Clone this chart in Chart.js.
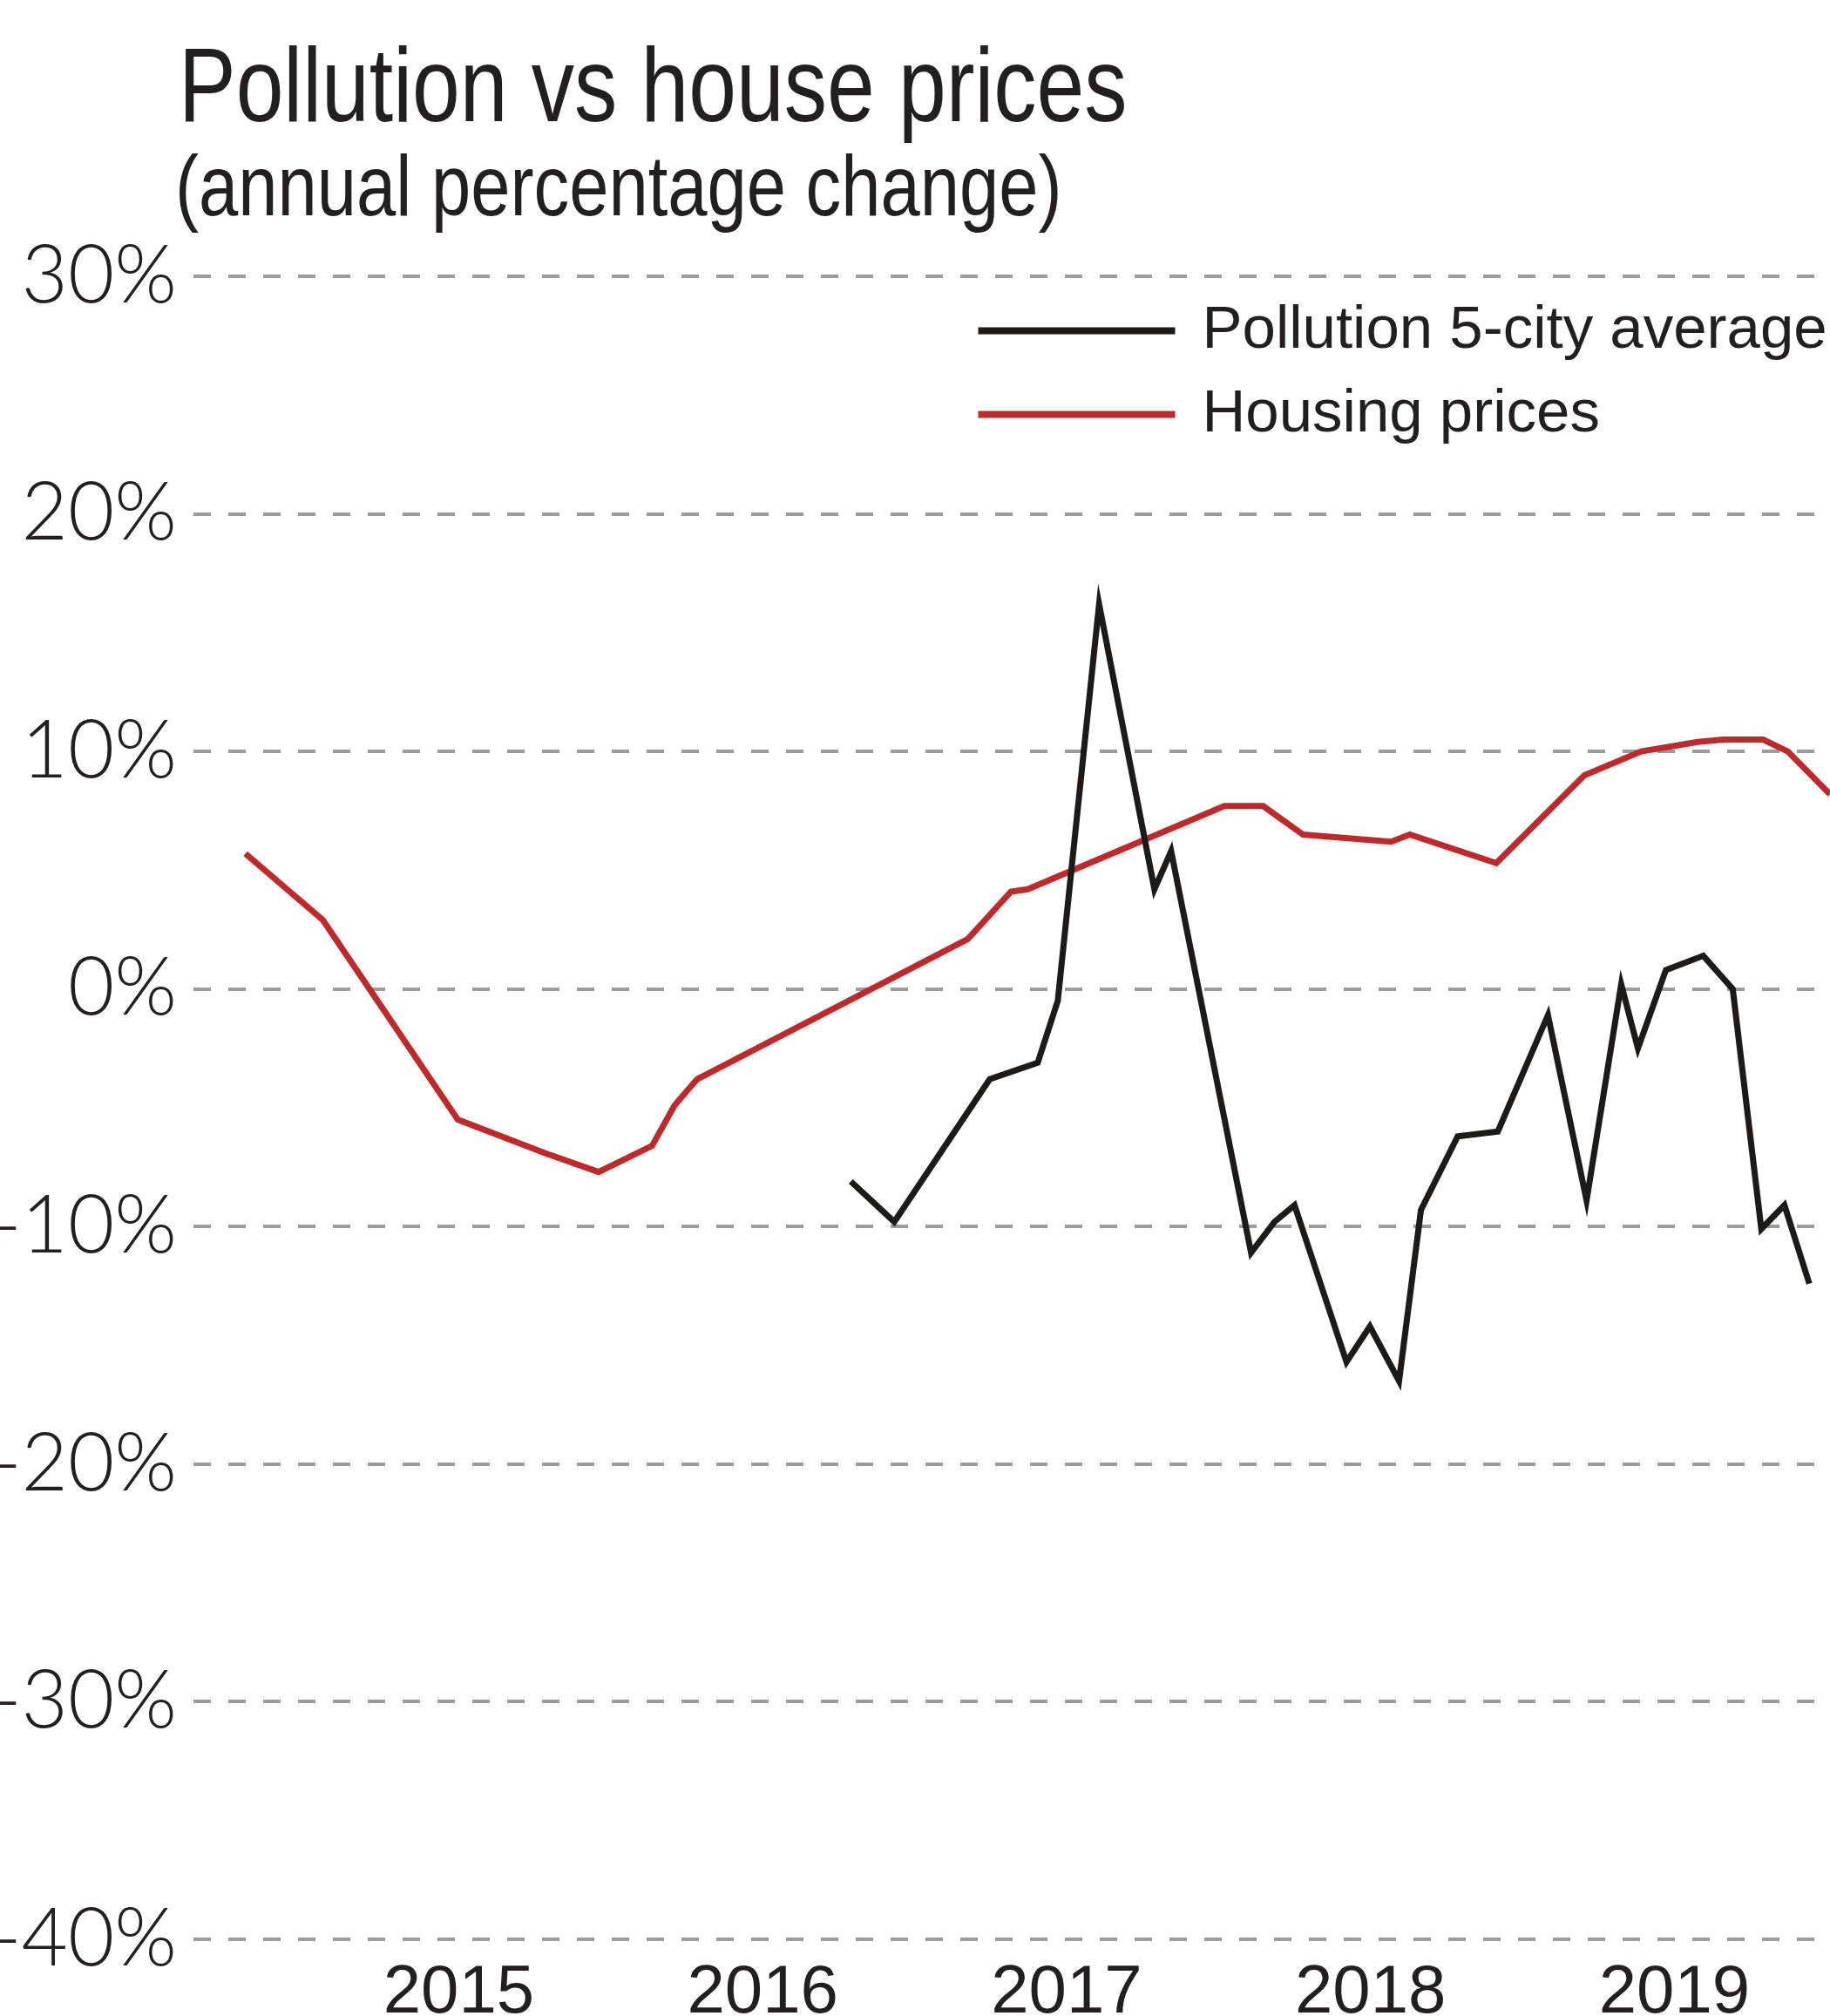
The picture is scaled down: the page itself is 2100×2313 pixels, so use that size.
<!DOCTYPE html>
<html>
<head>
<meta charset="utf-8">
<script src="https://cdn.jsdelivr.net/npm/chart.js@4.4.1/dist/chart.umd.min.js"></script>
<style>
  html, body { margin: 0; padding: 0; background: #ffffff; }
  #wrap { position: relative; width: 2100px; height: 2313px; overflow: hidden; }
  #chart { position: absolute; left: 0; top: 0; }
  .head {
    position: absolute;
    white-space: nowrap;
    color: #231f20;
    font-family: 'Liberation Sans', Arial, sans-serif;
    transform-origin: 0 0;
  }
  /* no narrow face installed, so squeeze the regular one */
  #title { left: 205px; top: 37px; font-size: 120px; line-height: 120px; transform: scaleX(0.82); }
  #subtitle { left: 201px; top: 164px; font-size: 98px; line-height: 98px; transform: scaleX(0.83); }
</style>
</head>
<body>
<div id="wrap">
  <canvas id="chart"></canvas>
  <div id="title" class="head">Pollution vs house prices</div>
  <div id="subtitle" class="head">(annual percentage change)</div>
</div>
<script>
// dates are decimal years
const pollutionDates = [2016.290, 2016.433, 2016.747, 2016.905, 2016.971, 2017.107, 2017.289, 2017.344,
    2017.607, 2017.684, 2017.750, 2017.921, 2017.998, 2018.094, 2018.166, 2018.287, 2018.419, 2018.584,
    2018.711, 2018.825, 2018.880, 2018.972, 2019.095, 2019.192, 2019.286, 2019.362, 2019.444];
const pollutionValues = [-8.1, -9.8, -3.8, -3.1, -0.5, 16.2, 4.2, 5.8,
    -11.1, -9.8, -9.1, -15.7, -14.2, -16.5, -9.3, -6.2, -6.0, -1.1,
    -8.9, 0.2, -2.5, 0.8, 1.4, 0.0, -10.1, -9.1, -12.4];

const housingDates = [2014.298, 2014.553, 2014.997, 2015.282, 2015.460, 2015.636, 2015.710, 2015.784,
    2016.675, 2016.817, 2016.872, 2017.519, 2017.647, 2017.778, 2018.068, 2018.129, 2018.414, 2018.704,
    2018.891, 2019.077, 2019.161, 2019.292, 2019.373, 2019.512];
const housingValues = [5.7, 2.9, -5.5, -6.9, -7.7, -6.6, -4.9, -3.8,
    2.1, 4.1, 4.2, 7.7, 7.7, 6.5, 6.2, 6.5, 5.3, 9.0,
    10.0, 10.4, 10.5, 10.5, 10.0, 8.2];

const yearTicks = [2015, 2016, 2017, 2018, 2019];
const percentTicks = [30, 20, 10, 0, -10, -20, -30, -40];

const textColor = '#231f20';
const sansFont = "'Liberation Sans', Arial, sans-serif";

function toPoints(xs, ys) {
    return xs.map((x, i) => ({ x: x, y: ys[i] }));
}

// legend sits inside the plot, top right
const legendPlacer = {
    id: 'legendPlacer',
    afterLayout(chart) {
        const lg = chart.legend;
        lg.left = 1099;
        lg.top = 318;
        lg.right = 2100;
        lg.bottom = 620;
        lg.width = lg.right - lg.left;
        lg.height = lg.bottom - lg.top;
    }
};

const ctx = document.getElementById('chart').getContext('2d');
const pollutionChart = new Chart(ctx, {
    type: 'line',
    data: {
        datasets: [
            {
                label: 'Pollution 5-city average',
                data: toPoints(pollutionDates, pollutionValues),
                borderColor: '#1d1a17',
                backgroundColor: '#1d1a17',
                borderWidth: 7,
            },
            {
                label: 'Housing prices',
                data: toPoints(housingDates, housingValues),
                borderColor: '#be2a2c',
                backgroundColor: '#be2a2c',
                borderWidth: 7,
            }
        ]
    },
    options: {
        responsive: true,
        maintainAspectRatio: false,
        animation: false,
        layout: { padding: { top: 317, left: 0, right: 0, bottom: 0 } },
        elements: {
            point: { radius: 0 },
            line: { tension: 0, fill: false, borderJoinStyle: 'miter' }
        },
        scales: {
            x: {
                type: 'linear',
                min: 2014.127,
                max: 2019.512,
                afterBuildTicks: scale => { scale.ticks = yearTicks.map(v => ({ value: v })); },
                afterFit: scale => { scale.height = 88; },
                grid: { display: false, drawTicks: false },
                border: { display: false },
                ticks: {
                    autoSkip: false,
                    maxRotation: 0,
                    padding: 16,
                    color: textColor,
                    font: { family: sansFont, size: 78 },
                    callback: v => String(v)
                }
            },
            y: {
                min: -40,
                max: 30,
                afterBuildTicks: scale => { scale.ticks = percentTicks.map(v => ({ value: v })); },
                afterFit: scale => { scale.width = 222; },
                grid: { color: '#9b9b9b', lineWidth: 4, drawTicks: false },
                border: { display: false, dash: [20, 20] },
                ticks: {
                    autoSkip: false,
                    padding: 19,
                    color: textColor,
                    font: { family: 'Lato', weight: 300, size: 92 },
                    callback: v => v + '%'
                }
            }
        },
        plugins: {
            legend: {
                position: 'chartArea',
                align: 'start',
                labels: {
                    boxWidth: 219,
                    boxHeight: 1,
                    padding: 27,
                    color: textColor,
                    font: { family: sansFont, size: 69 }
                }
            },
            tooltip: { enabled: false }
        }
    },
    plugins: [legendPlacer]
});
</script>
</body>
</html>
